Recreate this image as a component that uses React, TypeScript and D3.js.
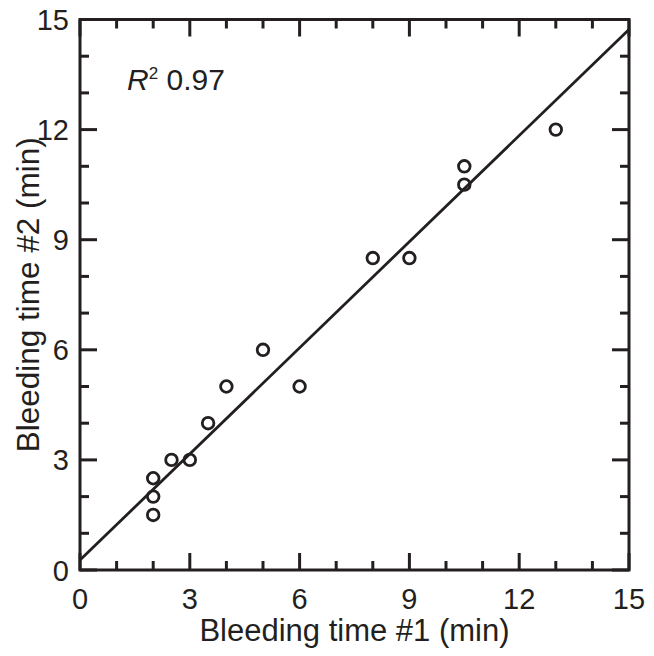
import React from "react";
import * as d3 from "d3";

const xVals = [2, 2, 2, 2.5, 3, 3.5, 4, 5, 6, 8, 9, 10.5, 10.5, 13];
const yVals = [1.5, 2, 2.5, 3, 3, 4, 5, 6, 5, 8.5, 8.5, 10.5, 11, 12];
const majorTicks = [0, 3, 6, 9, 12, 15];
const minorTicks = [1, 2, 4, 5, 7, 8, 10, 11, 13, 14];
const fitLine = [0.27, 14.73]; // y at x=0 and x=15

export default function App() {
  const W = 654, H = 656;
  const left = 80, right = 629, top = 19.5, bottom = 570;
  const x = d3.scaleLinear().domain([0, 15]).range([left, right]);
  const y = d3.scaleLinear().domain([0, 15]).range([bottom, top]);
  const font = "'Liberation Sans', Arial, sans-serif";
  const line = d3.line<[number, number]>().x(d => x(d[0])).y(d => y(d[1]));

  return (
    <svg width={W} height={H} style={{ position: "absolute", left: 0, top: 0 }}>
      <rect width={W} height={H} fill="#fff" />
      <g stroke="#231f20" strokeWidth={3}>
        {majorTicks.map(t => (
          <g key={"M" + t}>
            <line x1={x(t)} x2={x(t)} y1={bottom} y2={bottom - 17} />
            <line x1={x(t)} x2={x(t)} y1={top} y2={top + 17} />
            <line x1={left} x2={left + 17} y1={y(t)} y2={y(t)} />
            <line x1={right} x2={right - 17} y1={y(t)} y2={y(t)} />
          </g>
        ))}
        {minorTicks.map(t => (
          <g key={"m" + t}>
            <line x1={x(t)} x2={x(t)} y1={bottom} y2={bottom - 9} />
            <line x1={x(t)} x2={x(t)} y1={top} y2={top + 9} />
            <line x1={left} x2={left + 9} y1={y(t)} y2={y(t)} />
            <line x1={right} x2={right - 9} y1={y(t)} y2={y(t)} />
          </g>
        ))}
        <rect x={left} y={top} width={right - left} height={bottom - top} fill="none" strokeWidth={3} />
      </g>
      <path d={line([[0, fitLine[0]], [15, fitLine[1]]]) || ""} stroke="#231f20" strokeWidth={2.8} fill="none" />
      {xVals.map((v, i) => (
        <circle key={i} cx={x(v)} cy={y(yVals[i])} r={5.8} fill="none" stroke="#231f20" strokeWidth={2.8} />
      ))}
      <g fontFamily={font} fill="#231f20">
        {majorTicks.map(t => (
          <text key={"xl" + t} x={x(t)} y={609} fontSize={29} textAnchor="middle">{t}</text>
        ))}
        {majorTicks.map(t => (
          <text key={"yl" + t} x={69} y={y(t) + 10.5} fontSize={29} textAnchor="end">{t}</text>
        ))}
        <text x={(left + right) / 2} y={641} fontSize={31} textAnchor="middle">Bleeding time #1 (min)</text>
        <text transform={`translate(39,${(top + bottom) / 2}) rotate(-90)`} fontSize={31.5} textAnchor="middle">Bleeding time #2 (min)</text>
        <text x={127} y={90} fontSize={30}>
          <tspan fontStyle="italic">R</tspan>
          <tspan fontSize={17} dy={-11}>2</tspan>
          <tspan dy={11}> 0.97</tspan>
        </text>
      </g>
    </svg>
  );
}
